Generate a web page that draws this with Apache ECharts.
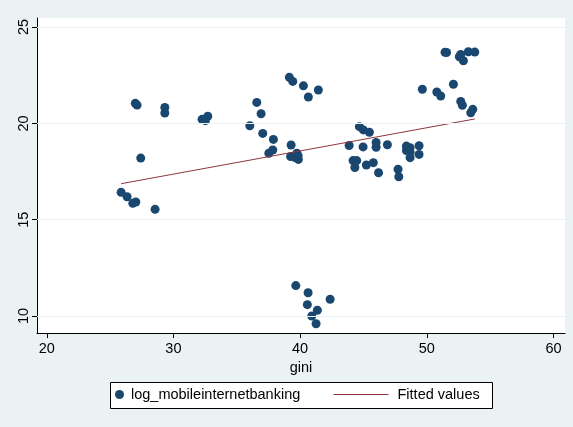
<!DOCTYPE html>
<html><head><meta charset="utf-8">
<script src="https://cdn.jsdelivr.net/npm/echarts@6/dist/echarts.min.js"></script>
<style>html,body{margin:0;padding:0;background:#EAF2F3}#c{width:573px;height:427px}</style>
</head><body><div id="c"></div>
<script>
const gini = [25.87,26.34,26.79,27.03,28.55,26.99,27.13,29.32,29.32,27.42,32.26,32.52,32.71,36.58,36.92,36.03,37.05,37.89,37.53,37.84,39.29,39.25,39.74,39.86,39.60,39.84,39.15,39.42,40.26,41.44,40.65,39.66,40.63,42.37,40.57,41.36,40.92,41.26,43.87,44.18,44.47,44.32,44.68,44.99,45.47,44.97,45.23,45.78,46.00,46.00,46.19,46.89,47.73,47.79,48.39,48.68,48.39,48.68,48.68,49.39,49.39,49.65,50.79,51.10,52.10,51.44,51.56,52.57,52.68,52.89,53.28,53.79,52.68,52.81,53.63,53.47];
const logMobile = [16.42,16.19,15.85,15.92,15.54,21.04,20.95,20.83,20.54,18.20,20.21,20.14,20.37,21.09,20.50,19.88,19.48,19.17,18.45,18.62,18.88,18.28,18.45,18.13,18.23,18.33,22.39,22.18,21.95,21.73,21.37,11.58,11.21,10.87,10.59,10.30,10.00,9.60,18.85,18.07,18.07,17.71,19.83,19.66,19.54,18.78,17.84,17.96,19.01,18.76,17.44,18.89,17.62,17.23,18.82,18.74,18.59,18.50,18.22,18.84,18.39,21.77,21.63,21.42,22.03,23.69,23.68,23.46,23.58,23.25,23.72,23.70,21.14,20.94,20.73,20.55];
const fitGini = [25.87, 53.79];
const fitValues = [16.87, 20.23];
const xTicks = [20, 30, 40, 50, 60];
const yTicks = [10, 15, 20, 25];

const FONT = "'Liberation Sans', Arial, Helvetica, sans-serif";
const chart = echarts.init(document.getElementById('c'), null, {renderer: 'canvas'});
chart.setOption({
  animation: false,
  backgroundColor: '#EAF2F3',
  textStyle: {fontFamily: FONT},
  grid: {left: 37, top: 18, right: 8, bottom: 94, show: true, backgroundColor: '#ffffff', borderWidth: 0},
  graphic: [{type: 'rect', z: 0, shape: {x: 110.5, y: 382.5, width: 382, height: 26},
    style: {fill: '#ffffff', stroke: '#000000', lineWidth: 1}}],
  legend: [
    {data: ['log_mobileinternetbanking'], left: 115, top: 387, padding: 0, z: 5,
     icon: 'circle', itemWidth: 9, itemHeight: 14,
     textStyle: {fontFamily: FONT, fontSize: 14.5, color: '#000', padding: [0,0,0,2]}},
    {data: ['Fitted values'], left: 333, top: 387, padding: 0, z: 5,
     itemWidth: 55, itemHeight: 14,
     itemStyle: {opacity: 0},
     lineStyle: {color: '#90353B', width: 1},
     textStyle: {fontFamily: FONT, fontSize: 14.5, color: '#000', padding: [0,0,0,4]}}
  ],
  xAxis: {
    type: 'value', min: 19.23, max: 60.91,
    name: 'gini', nameLocation: 'middle', nameGap: 27,
    nameTextStyle: {fontFamily: FONT, fontSize: 14.5, color: '#000'},
    axisLine: {show: true, lineStyle: {color: '#000', width: 1}},
    axisTick: {show: true, length: 5, customValues: xTicks, lineStyle: {color: '#000'}},
    axisLabel: {customValues: xTicks, fontFamily: FONT, fontSize: 14.5, color: '#000', margin: 8},
    splitLine: {show: false}
  },
  yAxis: {
    type: 'value', min: 9.12, max: 25.47,
    axisLine: {show: true, lineStyle: {color: '#000', width: 1}},
    axisTick: {show: true, length: 5, customValues: yTicks, lineStyle: {color: '#000'}},
    axisLabel: {customValues: yTicks, rotate: 90, fontFamily: FONT, fontSize: 14.5, color: '#000', margin: 6},
    splitLine: {show: false}
  },
  series: [
    {name: 'gridlines', type: 'line', data: [], z: 1, silent: true,
     markLine: {silent: true, symbol: 'none', label: {show: false}, animation: false,
       lineStyle: {color: '#EAF2F3', type: 'solid', width: 1},
       data: yTicks.map(v => ({yAxis: v}))}},
    {name: 'log_mobileinternetbanking', type: 'scatter', z: 3,
     symbol: 'circle', symbolSize: 9,
     itemStyle: {color: '#1A476F', opacity: 1},
     data: gini.map((g, i) => [g, logMobile[i]])},
    {name: 'Fitted values', type: 'line', z: 4, symbol: 'none', showSymbol: false,
     lineStyle: {color: '#90353B', width: 1},
     itemStyle: {color: '#90353B'},
     data: fitGini.map((g, i) => [g, fitValues[i]])}
  ]
});
</script></body></html>
